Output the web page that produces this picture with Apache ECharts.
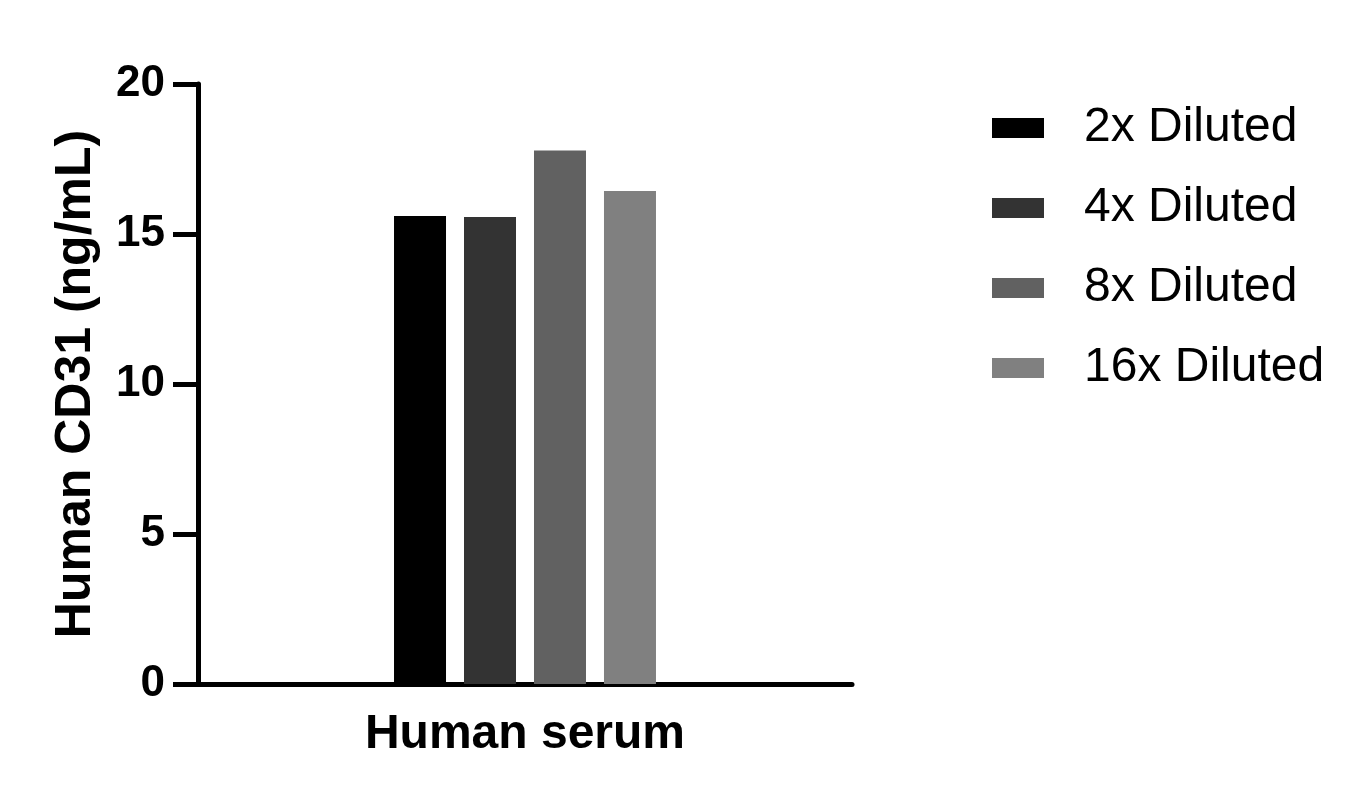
<!DOCTYPE html>
<html>
<head>
<meta charset="utf-8">
<script src="https://cdn.jsdelivr.net/npm/echarts@6/dist/echarts.min.js"></script>
<style>html,body{margin:0;padding:0;background:#fff}#c{width:1368px;height:804px}</style>
</head>
<body>
<div id="c"></div>
<script>
var categories = ['Human serum'];
var seriesNames = ['2x Diluted', '4x Diluted', '8x Diluted', '16x Diluted'];
var seriesValues = [[15.6], [15.57], [17.78], [16.43]];
var seriesColors = ['#000000', '#333333', '#616161', '#808080'];
var yTicks = [0, 5, 10, 15, 20];

var font = 'Liberation Sans, Arial, sans-serif';
var chart = echarts.init(document.getElementById('c'));
chart.setOption({
  animation: false,
  backgroundColor: '#fff',
  grid: {left: 198, right: 516, top: 84, bottom: 120, containLabel: false},
  legend: {
    orient: 'vertical', left: 987, top: 99,
    itemWidth: 52, itemHeight: 20, itemGap: 32,
    textStyle: {fontFamily: font, fontSize: 48, color: '#000', lineHeight: 48, padding: [0, 0, 0, 35]},
    icon: 'rect',
    data: seriesNames
  },
  xAxis: {
    type: 'category', data: categories,
    axisLine: {lineStyle: {color: '#000', width: 5}},
    axisTick: {show: false},
    axisLabel: {fontFamily: font, fontSize: 48, fontWeight: 'bold', color: '#000', margin: 27}
  },
  yAxis: {
    type: 'value', min: yTicks[0], max: yTicks[yTicks.length - 1], interval: 5,
    name: 'Human CD31 (ng/mL)', nameLocation: 'middle', nameGap: 97,
    nameTextStyle: {fontFamily: font, fontSize: 50, fontWeight: 'bold', color: '#000'},
    axisLine: {show: true, lineStyle: {color: '#000', width: 5}},
    axisTick: {show: true, length: 25, lineStyle: {color: '#000', width: 5}},
    axisLabel: {fontFamily: font, fontSize: 44, fontWeight: 'bold', color: '#000', margin: 33},
    splitLine: {show: false}
  },
  series: seriesNames.map(function (n, i) {
    return {
      name: n, type: 'bar', data: seriesValues[i],
      barWidth: 52, barGap: '34.6%',
      itemStyle: {color: seriesColors[i]}
    };
  })
});
</script>
</body>
</html>
